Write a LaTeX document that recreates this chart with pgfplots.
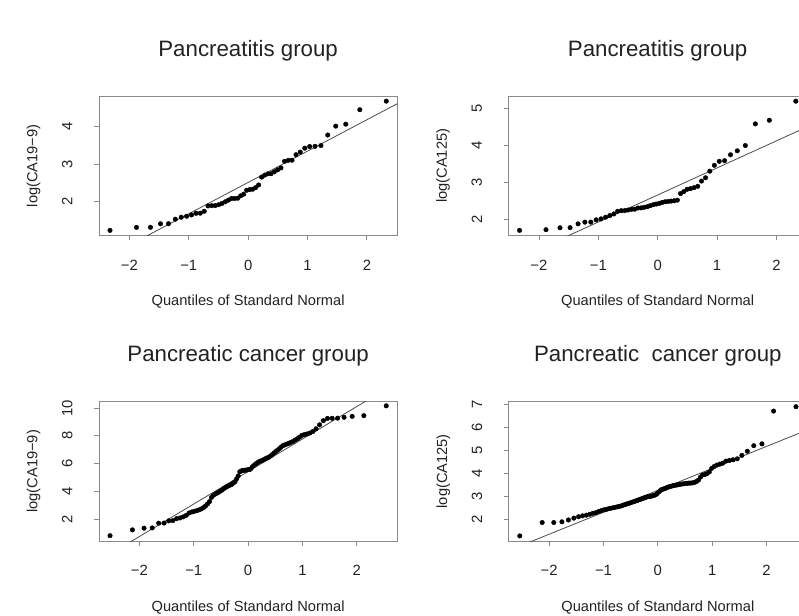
\documentclass[border=0pt]{standalone}
\usepackage{pgfplots}
\pgfplotsset{compat=1.18}
\usepackage{pgfplotstable}
\usepackage{fontspec}
\setmainfont{Liberation Sans}
\definecolor{boxgray}{HTML}{8A8A8A}
\definecolor{linegray}{HTML}{4A4A4A}
\definecolor{txt}{HTML}{222222}

\pgfplotstableread{
x y
-2.3263 1.228
-1.8808 1.307
-1.6449 1.310
-1.4758 1.404
-1.3408 1.406
-1.2265 1.526
-1.1264 1.579
-1.0364 1.605
-0.9542 1.640
-0.8779 1.684
-0.8064 1.686
-0.7388 1.737
-0.6745 1.880
-0.6128 1.886
-0.5534 1.890
-0.4959 1.912
-0.4399 1.947
-0.3853 1.991
-0.3319 2.035
-0.2793 2.079
-0.2275 2.080
-0.1764 2.085
-0.1257 2.149
-0.0753 2.193
-0.0251 2.298
0.0251 2.316
0.0753 2.325
0.1257 2.368
0.1764 2.439
0.2275 2.649
0.2793 2.702
0.3319 2.737
0.3853 2.740
0.4399 2.789
0.4959 2.842
0.5534 2.895
0.6128 3.070
0.6745 3.096
0.7388 3.100
0.8064 3.246
0.8779 3.316
0.9542 3.421
1.0364 3.465
1.1264 3.470
1.2265 3.491
1.3408 3.772
1.4758 4.009
1.6449 4.061
1.8808 4.447
2.3263 4.675
}\tA

\pgfplotstableread{
x y
-2.3263 1.706
-1.8808 1.724
-1.6449 1.777
-1.4758 1.780
-1.3408 1.884
-1.2265 1.929
-1.1264 1.930
-1.0364 1.991
-0.9542 2.018
-0.8779 2.062
-0.8064 2.107
-0.7388 2.151
-0.6745 2.223
-0.6128 2.240
-0.5534 2.242
-0.4959 2.258
-0.4399 2.276
-0.3853 2.280
-0.3319 2.312
-0.2793 2.315
-0.2275 2.330
-0.1764 2.347
-0.1257 2.374
-0.0753 2.400
-0.0251 2.419
0.0251 2.436
0.0753 2.463
0.1257 2.481
0.1764 2.490
0.2275 2.499
0.2793 2.508
0.3319 2.525
0.3853 2.703
0.4399 2.757
0.4959 2.819
0.5534 2.837
0.6128 2.864
0.6745 2.899
0.7388 3.042
0.8064 3.131
0.8779 3.309
0.9542 3.469
1.0364 3.576
1.1264 3.594
1.2265 3.754
1.3408 3.861
1.4758 4.004
1.6449 4.591
1.8808 4.689
2.3263 5.206
}\tB

\pgfplotstableread{
x c d
-2.540 0.79 1.30
-2.128 1.21 1.88
-1.914 1.33 1.88
-1.764 1.35 1.91
-1.645 1.69 1.99
-1.545 1.70 2.07
-1.459 1.86 2.13
-1.383 1.88 2.17
-1.314 2.02 2.20
-1.250 2.07 2.24
-1.192 2.15 2.28
-1.137 2.26 2.31
-1.085 2.43 2.36
-1.036 2.50 2.40
-0.990 2.55 2.43
-0.946 2.59 2.45
-0.903 2.65 2.48
-0.862 2.72 2.50
-0.822 2.81 2.52
-0.784 2.93 2.54
-0.746 3.08 2.56
-0.710 3.25 2.58
-0.674 3.55 2.60
-0.640 3.70 2.63
-0.606 3.79 2.66
-0.573 3.86 2.68
-0.541 3.93 2.71
-0.509 4.01 2.73
-0.477 4.09 2.76
-0.446 4.19 2.78
-0.415 4.27 2.81
-0.385 4.34 2.83
-0.355 4.40 2.86
-0.326 4.45 2.88
-0.297 4.50 2.91
-0.268 4.60 2.93
-0.240 4.69 2.96
-0.210 4.90 2.98
-0.182 5.10 3.00
-0.154 5.40 3.01
-0.126 5.46 3.02
-0.098 5.50 3.04
-0.070 5.51 3.06
-0.042 5.52 3.08
-0.014 5.54 3.13
0.014 5.56 3.20
0.042 5.59 3.26
0.070 5.72 3.31
0.098 5.83 3.33
0.126 5.92 3.35
0.154 6.01 3.38
0.182 6.08 3.41
0.210 6.15 3.43
0.240 6.19 3.45
0.268 6.23 3.47
0.297 6.30 3.49
0.326 6.36 3.50
0.355 6.41 3.51
0.385 6.46 3.53
0.415 6.55 3.54
0.446 6.65 3.55
0.477 6.76 3.56
0.509 6.86 3.57
0.541 6.96 3.58
0.573 7.06 3.59
0.606 7.18 3.59
0.640 7.29 3.60
0.674 7.34 3.62
0.710 7.40 3.66
0.746 7.45 3.72
0.784 7.52 3.85
0.822 7.58 3.94
0.862 7.68 3.96
0.903 7.78 4.00
0.946 7.90 4.07
0.990 8.03 4.23
1.036 8.09 4.31
1.085 8.13 4.37
1.137 8.20 4.41
1.192 8.31 4.45
1.250 8.50 4.54
1.314 8.79 4.57
1.383 9.09 4.60
1.459 9.25 4.64
1.545 9.26 4.79
1.645 9.27 4.97
1.764 9.33 5.21
1.914 9.40 5.29
2.128 9.45 6.71
2.540 10.16 6.90
}\tC

\begin{document}
\pgfplotsset{qq/.style={
  scale only axis, width=301.4bp, height=141bp,
  anchor=south west,
  axis line style={boxgray, line width=0.8bp},
  tick style={boxgray, line width=0.8bp},
  tick align=outside, tick pos=left, major tick length=5bp,
  /pgf/number format/assume math mode=true,
  xtick={-2,-1,0,1,2}, xticklabels={−2,−1,0,1,2},
  ticklabel style={font=\fontsize{15bp}{18bp}\selectfont, text=txt},
  xticklabel style={anchor=center, yshift=-25bp},
  yticklabel style={anchor=center, xshift=-27bp, rotate=90},
  title style={at={(axis description cs:0.5,1)}, anchor=base, yshift=34bp,
     font=\fontsize{22.5bp}{27bp}\selectfont, text=txt},
  xlabel style={at={(axis description cs:0.5,0)}, anchor=base, yshift=-71bp,
     font=\fontsize{14.8bp}{18bp}\selectfont, text=txt},
  ylabel style={at={(axis description cs:0,0.5)}, rotate=-90, xshift=-66bp, rotate=90, anchor=center,
     font=\fontsize{14.8bp}{18bp}\selectfont, text=txt},
  xlabel={Quantiles of Standard Normal},
}}
\pgfplotsset{pts/.style={only marks, mark=*, mark size=2.3bp, black, mark options={draw=black, fill=black}}}
\pgfplotsset{ql/.style={no marks, linegray, line width=0.8bp}}
\begin{tikzpicture}
\useasboundingbox (0,0) rectangle (799bp,622bp);
\begin{axis}[qq, at={(91.7bp,384bp)}, title={Pancreatitis group}, ylabel={log(CA19−9)},
  xmin=-2.512, xmax=2.512, ymin=1.090, ymax=4.813, ytick={2,3,4}]
\addplot[pts] table[x=x, y=y] {\tA};
\addplot[ql] coordinates {(-3,-0.001) (3,5.015)};
\end{axis}
\begin{axis}[qq, at={(505.5bp,384bp)}, title={Pancreatitis group}, ylabel={log(CA125)},
  xmin=-2.512, xmax=2.512, ymin=1.566, ymax=5.346, ytick={2,3,4,5}]
\addplot[pts] table[x=x, y=y] {\tB};
\addplot[ql] coordinates {(-3,0.466) (3,4.864)};
\end{axis}
\begin{axis}[qq, at={(91.7bp,75.3bp)}, title={Pancreatic cancer group}, ylabel={log(CA19−9)},
  xmin=-2.743, xmax=2.743, ymin=0.40, ymax=10.47, ytick={2,4,6,8,10}]
\addplot[pts] table[x=x, y=c] {\tC};
\addplot[ql] coordinates {(-3,-1.618) (3,12.458)};
\end{axis}
\begin{axis}[qq, at={(505.7bp,75.3bp)}, title={Pancreatic\ \ cancer group}, ylabel={log(CA125)},
  xmin=-2.743, xmax=2.743, ymin=1.076, ymax=7.124, ytick={2,3,4,5,6,7}]
\addplot[pts] table[x=x, y=d] {\tC};
\addplot[ql] coordinates {(-3,0.42) (3,6.132)};
\end{axis}
\end{tikzpicture}
\end{document}
